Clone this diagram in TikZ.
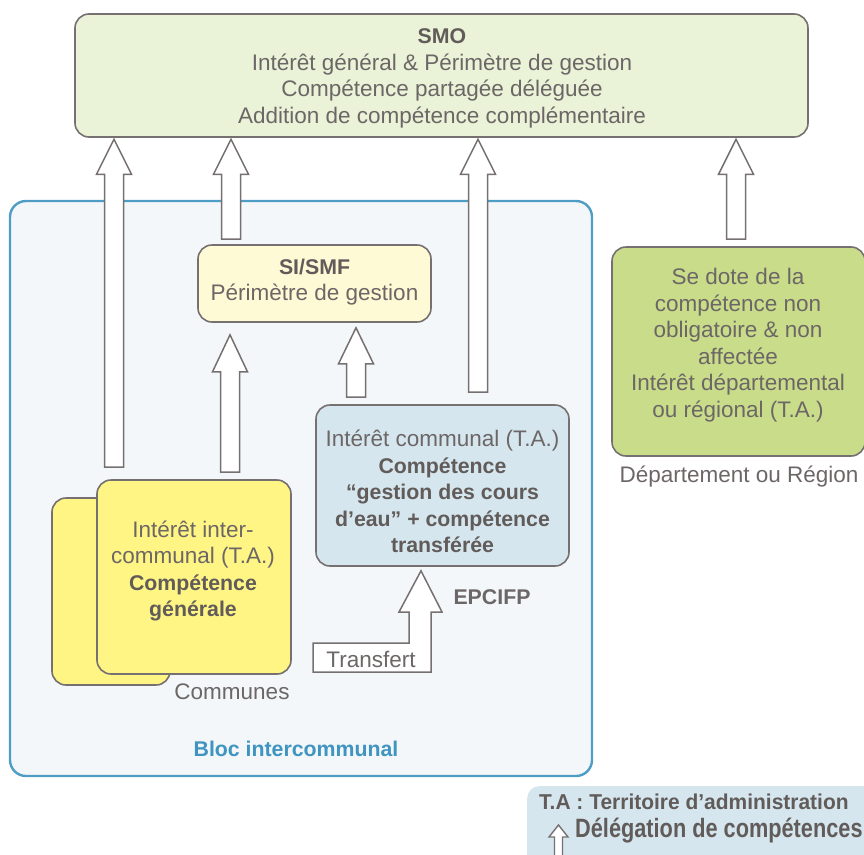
\documentclass[tikz,border=0pt]{standalone}
\usepackage{fontspec}
\usepackage{graphicx}
\setmainfont{Liberation Sans}
\usetikzlibrary{calc}
\definecolor{txt}{HTML}{6C6766}
\definecolor{txtb}{HTML}{615C5A}
\definecolor{edge}{HTML}{767170}
\definecolor{smofill}{HTML}{EAF2D7}
\definecolor{blocfill}{HTML}{F3F7FA}
\definecolor{blocedge}{HTML}{4E9DC4}
\definecolor{sifill}{HTML}{FFFAD6}
\definecolor{depfill}{HTML}{C9DC8A}
\definecolor{epfill}{HTML}{D6E6EE}
\definecolor{comfill}{HTML}{FFF584}
\definecolor{bloctxt}{HTML}{3F94C0}
\newcommand\bfc{\fontsize{21.3}{26.5}\selectfont\bfseries\color{txtb}}
% block arrow: #1 x, #2 from anchor, #3 to anchor, #4 bottom gap, #5 top gap, #6 head length
\newcommand\blkarrow[6]{%
  \draw[blkarrow] let \p1=(#1,0 |- #2), \p2=(#1,0 |- #3) in
    (\x1-9.5pt,\y1+#4pt) -- (\x1-9.5pt,\y2-#5pt-#6pt) -- (\x1-17.5pt,\y2-#5pt-#6pt)
    -- (\x1,\y2-#5pt) -- (\x1+17.5pt,\y2-#5pt-#6pt) -- (\x1+9.5pt,\y2-#5pt-#6pt)
    -- (\x1+9.5pt,\y1+#4pt) -- cycle;}
\begin{document}
\begin{tikzpicture}[x=1pt,y=-1pt,
  box/.style={draw=edge, line width=1.6pt, rounded corners=14pt, inner sep=0pt},
  txtnode/.style={align=center, text=txt, inner sep=0pt,
    font=\fontsize{22.5}{26.5}\selectfont},
  legtxt/.style={anchor=west, inner sep=0pt, text=txtb,
    font=\fontsize{21.5}{24}\selectfont\bfseries},
  blkarrow/.style={draw=edge, line width=1.5pt, fill=white, line join=miter}]
\useasboundingbox (0,0) rectangle (864,854);
% legend background
\node[fill=epfill, rounded corners=12pt, minimum width=360pt, minimum height=100pt,
  anchor=north west, inner sep=0pt] (legend) at (527,786) {};
% bloc intercommunal
\node[draw=blocedge, line width=2.4pt, fill=blocfill, rounded corners=16pt,
  minimum width=582pt, minimum height=575pt, inner sep=0pt] (bloc) at (301,488.5) {};
% SMO
\node[box, fill=smofill, minimum width=733pt, minimum height=123pt] (smo) at (441.5,75.5) {};
\node[txtnode] (smotxt) at (442,78.5) {{\bfc SMO}\\Intérêt général \& Périmètre de gestion\\
  Compétence partagée déléguée\\Addition de compétence complémentaire};
% SI/SMF
\node[box, fill=sifill, minimum width=233pt, minimum height=77pt] (si) at (314.5,283.5) {};
\node[txtnode] (sitxt) at (314.5,282) {{\bfc SI/SMF}\\Périmètre de gestion};
% Departement
\node[box, fill=depfill, minimum width=253pt, minimum height=209pt] (dep) at (738.5,351.5) {};
\node[txtnode] (deptxt) at (738,345) {Se dote de la\\compétence non\\obligatoire \& non\\affectée\\
  Intérêt départemental\\ou régional (T.A.)};
\node[txtnode] (deplbl) at (739,477) {Département ou Région};
% EPCIFP
\node[box, fill=epfill, minimum width=253pt, minimum height=161pt] (ep) at (442.5,485.5) {};
\node[txtnode] (eptxt) at (442.5,491.5) {Intérêt communal (T.A.)\\{\bfc Compétence}\\
  {\bfc “gestion des cours}\\{\bfc d’eau” + compétence}\\{\bfc transférée}};
\node[txtnode, font=\bfc] (eplbl) at (492,597) {EPCIFP};
% Communes
\node[box, fill=comfill, minimum width=118pt, minimum height=187pt] (comback) at (111,591.5) {};
\node[box, fill=comfill, minimum width=194pt, minimum height=194pt] (comm) at (194,577) {};
\node[txtnode] (commtxt) at (193,571) {Intérêt inter-\\communal (T.A.)\\{\bfc Compétence}\\{\bfc générale}};
\node[txtnode] (commlbl) at (232,692) {Communes};
\node[txtnode, text=bloctxt, font=\fontsize{21.3}{26.5}\selectfont\bfseries] (bloclbl) at (296,749) {Bloc intercommunal};
% arrows to SMO
\blkarrow{114}{comm.north}{smo.south}{12}{1.5}{35}
\blkarrow{231}{si.north}{smo.south}{5}{1.5}{35}
\blkarrow{478}{ep.north}{smo.south}{12}{1.5}{35}
\blkarrow{736}{dep.north}{smo.south}{7}{1.5}{35}
% arrows to SI/SMF
\blkarrow{230}{comm.north}{si.south}{7}{12}{37}
\blkarrow{356}{ep.north}{si.south}{7}{5}{36}
% transfert arrow
\draw[blkarrow] let \p1=(ep.south) in
  (313,672) -- (313,643) -- (409,643) -- (409,612) -- (399,612) -- (421,\y1-4pt)
  -- (442,612) -- (431,612) -- (431,672) -- cycle;
\node[txtnode] (transf) at (371,659) {Transfert};
% legend
\node[legtxt] (leg1) at (539,802) {\scalebox{0.975}[1]{T.A : Territoire d’administration}};
\node[legtxt, font=\fontsize{26.5}{30}\selectfont\bfseries] (leg2) at (575,831) {\scalebox{0.82}[1]{Délégation de compétences}};
\draw[blkarrow, line width=1.4pt] (554.5,860) -- (554.5,837) -- (549,837) -- (558.5,825)
  -- (568,837) -- (562.5,837) -- (562.5,860) -- cycle;
\end{tikzpicture}
\end{document}
